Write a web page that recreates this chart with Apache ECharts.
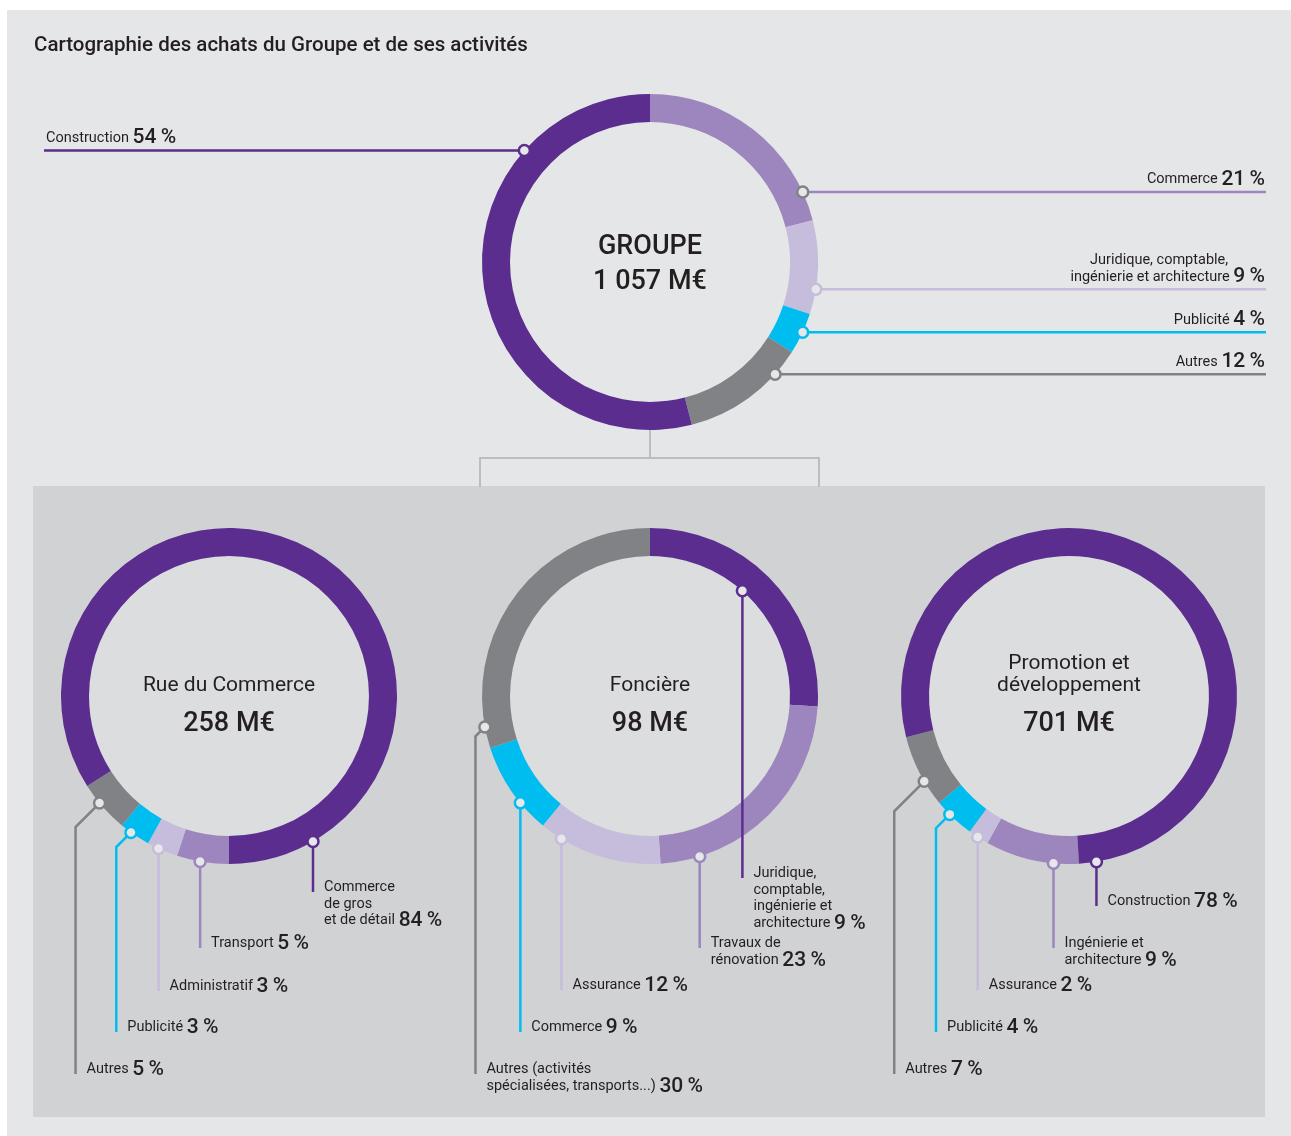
<!DOCTYPE html>
<html>
<head>
<meta charset="utf-8">
<title>Cartographie des achats</title>
<script src="https://cdn.jsdelivr.net/npm/echarts@6/dist/echarts.min.js"></script>
<style>
  html, body { margin: 0; padding: 0; background: #ffffff; }
  #chart { width: 1291px; height: 1136px; }
</style>
</head>
<body>
<div id="chart"></div>
<script>
// --- data ---
var topNames = ['Commerce', 'Juridique, comptable,\ningénierie et architecture', 'Publicité', 'Autres', 'Construction'];
var topValues = [21, 9, 4, 12, 54];

var rueNames = ['Transport', 'Administratif', 'Publicité', 'Autres', 'Commerce\nde gros\net de détail'];
var rueValues = [5, 3, 3, 5, 84];

var foncNames = ['Juridique,\ncomptable,\ningénierie et\narchitecture', 'Travaux de\nrénovation', 'Assurance', 'Commerce', 'Autres (activités\nspécialisées, transports...)'];
var foncArc = [26, 23, 12, 9, 30];     // share drawn on the ring
var foncValues = [9, 23, 12, 9, 30];   // share printed in the labels

var promoNames = ['Ingénierie et\narchitecture', 'Assurance', 'Publicité', 'Autres', 'Construction'];
var promoValues = [9, 2, 4, 7, 78];

var donutTitles = ['GROUPE', 'Rue du Commerce', 'Foncière', 'Promotion et\ndéveloppement'];
var donutTotals = ['1 057 M€', '258 M€', '98 M€', '701 M€'];

// --- styles ---
var PURPLE = '#5b2d8e', LILAC = '#9c86bd', LAV = '#c6bcdc', CYAN = '#00bdf0', GRAY = '#808285';
var TXT = '#231f20';
var FONT = 'Roboto, "Noto Sans", sans-serif';

// --- layout: ring geometry and callout routes ---
var R_IN = 140, R_OUT = 168;
var donuts = [
  { center: [650, 262], start: 90, colors: [LILAC, LAV, CYAN, GRAY, PURPLE] },
  { center: [229, 696], start: 270, colors: [LILAC, LAV, CYAN, GRAY, PURPLE] },
  { center: [650, 696], start: 90, colors: [PURPLE, LILAC, LAV, CYAN, GRAY] },
  { center: [1069, 696], start: 273.4, colors: [LILAC, LAV, CYAN, GRAY, PURPLE] }
];
// top chart: horizontal leaders; bottom charts: vertical leaders (dx = 45deg kink)
var callouts = [
  [{ a: 24.6, side: 'r', mk: GRAY }, { a: -9.3, side: 'r' }, { a: -24.7, side: 'r' }, { a: -41.9, side: 'r' }, { a: 138.4, side: 'l' }],
  [{ a: 260.1, dx: 0, end: 948 }, { a: 245.2, dx: 0, end: 991 }, { a: 234.3, dx: -14.7, end: 1032 }, { a: 219.6, dx: -24, end: 1074 }, { a: 300, dx: 0, end: 892 }],
  [{ a: 48.7, dx: 0, end: 878, inner: true }, { a: -72.8, dx: 0, end: 948 }, { a: 238.2, dx: 0, end: 990 }, { a: 219.5, dx: 0, end: 1032 }, { a: 190.6, dx: -9.4, end: 1074 }],
  [{ a: 264.7, dx: 0, end: 948 }, { a: 237.1, dx: 0, end: 990 }, { a: 224.8, dx: -13.8, end: 1032 }, { a: 210.5, dx: -30, end: 1074 }, { a: 279.4, dx: 0, end: 906 }]
];

function ringPoint(c, deg, rad) {
  var t = deg * Math.PI / 180;
  return [c[0] + rad * Math.cos(t), c[1] - rad * Math.sin(t)];
}

// compute leader lines and label anchors
var routes = callouts.map(function (list, s) {
  var c = donuts[s].center;
  return list.map(function (co, i) {
    var p = ringPoint(c, co.a, co.inner ? R_IN : R_OUT);
    var color = donuts[s].colors[i];
    if (co.side) {
      var xEnd = co.side === 'r' ? 1266 : 44;
      return { color: color, mk: co.mk || color, p: p, pts: [p, [xEnd, p[1]]],
               lx: co.side === 'r' ? 1265 : 46, ly: p[1] - 4, align: co.side === 'r' ? 'right' : 'left', va: 'bottom' };
    }
    var x = p[0] + co.dx;
    var pts = co.dx ? [p, [x, p[1] - co.dx], [x, co.end]] : [p, [x, co.end]];
    return { color: color, mk: color, p: p, pts: pts, lx: x + 11, ly: co.end - 12.5, align: 'left', va: 'top' };
  });
});

function labelText(name, pct, rightAligned) {
  var lines = name.split('\n');
  var p = pct + '\u2009%';
  return lines.map(function (l, i) {
    if (i === lines.length - 1) return '{n|' + l + ' }{p|' + p + '}';
    return '{n|' + l + '}' + (rightAligned ? '{h| ' + p + '}' : '');
  }).join('\n');
}

var richStyle = {
  n: { fontSize: 14.5, fontFamily: FONT, color: TXT, lineHeight: 16.5 },
  p: { fontSize: 21, fontFamily: FONT, fontWeight: 500, color: TXT, lineHeight: 16.5 },
  h: { fontSize: 21, fontFamily: FONT, fontWeight: 500, color: 'rgba(0,0,0,0)', lineHeight: 16.5 }
};

function makeSeries(s, names, arcValues, pctValues) {
  var d = donuts[s];
  return {
    type: 'pie',
    silent: true,
    center: d.center,
    radius: [R_IN, R_OUT],
    startAngle: d.start,
    clockwise: true,
    avoidLabelOverlap: false,
    animation: false,
    data: names.map(function (n, i) {
      return {
        name: n, value: arcValues[i],
        itemStyle: { color: d.colors[i] },
        label: { formatter: labelText(n, pctValues[i], s === 0 && callouts[0][i].side === 'r') }
      };
    }),
    label: { show: true, position: 'outside', rich: richStyle },
    labelLine: { show: false },
    labelLayout: function (params) {
      var r = routes[s][params.dataIndex];
      return { x: r.lx, y: r.ly, align: r.align, verticalAlign: r.va, hideOverlap: false };
    }
  };
}

var graphics = [
  { type: 'rect', z: 0, shape: { x: 7, y: 10, width: 1284, height: 1126 }, style: { fill: '#e5e6e8' } },
  { type: 'rect', z: 0, shape: { x: 33, y: 486, width: 1232, height: 631 }, style: { fill: '#d1d2d4' } },
  { type: 'polyline', z: 1, shape: { points: [[650, 430], [650, 458]] }, style: { stroke: '#bcbdc0', lineWidth: 2, fill: null } },
  { type: 'polyline', z: 1, shape: { points: [[480, 487], [480, 458], [819, 458], [819, 487]] }, style: { stroke: '#bcbdc0', lineWidth: 2, fill: null } },
  { type: 'text', z: 3, style: { text: 'Cartographie des achats du Groupe et de ses activités', x: 34, y: 46,
      fontSize: 20.5, fontWeight: 500, fontFamily: FONT, fill: TXT, textAlign: 'left', textVerticalAlign: 'middle', align: 'left', verticalAlign: 'middle' } }
];

// inner fill of lower donuts
for (var k = 1; k < 4; k++) {
  graphics.push({ type: 'circle', z: 1, shape: { cx: donuts[k].center[0], cy: donuts[k].center[1], r: R_IN }, style: { fill: '#dcdddf' } });
}

// center captions
donuts.forEach(function (d, s) {
  var isTop = s === 0;
  var nameLines = donutTitles[s].split('\n');
  var nameSize = isTop ? 27 : 21;
  var nameY = isTop ? 247 : 685.5;
  nameLines.forEach(function (l, i) {
    graphics.push({ type: 'text', z: 3, style: {
      text: l, x: d.center[0], y: nameY - (nameLines.length - 1 - i) * 21.5,
      fontSize: nameSize, fontWeight: isTop ? 500 : 400, fontFamily: FONT, fill: TXT,
      textAlign: 'center', textVerticalAlign: 'middle', align: 'center', verticalAlign: 'middle' } });
  });
  graphics.push({ type: 'text', z: 3, style: {
    text: donutTotals[s], x: d.center[0], y: isTop ? 282 : 724,
    fontSize: 27, fontWeight: 500, fontFamily: FONT, fill: TXT,
    textAlign: 'center', textVerticalAlign: 'middle', align: 'center', verticalAlign: 'middle' } });
});

// leader lines and markers
routes.forEach(function (list) {
  list.forEach(function (r) {
    graphics.push({ type: 'polyline', z: 5, shape: { points: r.pts }, style: { stroke: r.color, lineWidth: 2.5, fill: null } });
    graphics.push({ type: 'circle', z: 6, shape: { cx: r.p[0], cy: r.p[1], r: 5.5 }, style: { fill: '#e6e7e9', stroke: r.mk, lineWidth: 2.5 } });
  });
});

var chart = echarts.init(document.getElementById('chart'), null, { renderer: 'canvas' });
chart.setOption({
  backgroundColor: '#ffffff',
  animation: false,
  graphic: { elements: graphics },
  series: [
    makeSeries(0, topNames, topValues, topValues),
    makeSeries(1, rueNames, rueValues, rueValues),
    makeSeries(2, foncNames, foncArc, foncValues),
    makeSeries(3, promoNames, promoValues, promoValues)
  ]
});
</script>
</body>
</html>
